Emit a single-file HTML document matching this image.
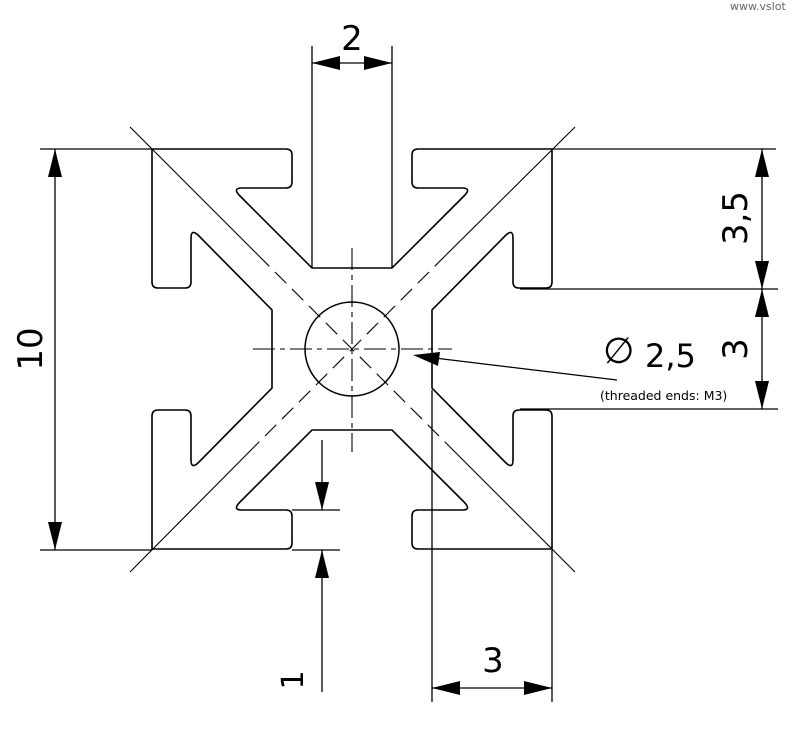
<!DOCTYPE html>
<html><head><meta charset="utf-8"><style>
html,body{margin:0;padding:0;background:#fff;}
svg{display:block;}
text{font-family:"DejaVu Sans","Liberation Sans",sans-serif;fill:#000;}
</style></head><body>
<svg width="800" height="732" viewBox="0 0 800 732" xmlns="http://www.w3.org/2000/svg">
<defs>
<g id="q">
<path d="M352,268 L312,268 L240,196 Q232,188 242,188 L286,188 Q292,188 292,182 L292,155 Q292,149 286,149 L152,149 L152,282 Q152,288 158,288 L185,288 Q191,288 191,282 L191,238 Q191,228 199,236 L272,310 L272,349" fill="none" stroke="#000" stroke-width="1.6"/>
</g>
</defs>
<use href="#q"/>
<use href="#q" transform="translate(704,0) scale(-1,1)"/>
<use href="#q" transform="translate(0,698) scale(1,-1)"/>
<use href="#q" transform="translate(704,698) scale(-1,-1)"/>
<g stroke="#000" stroke-width="1.3" fill="none">
<!-- slot walls / extensions -->
<line x1="312" y1="268" x2="312" y2="46"/>
<line x1="392" y1="268" x2="392" y2="46"/>
<line x1="432" y1="390" x2="432" y2="702"/>
<line x1="552" y1="550" x2="552" y2="702"/>
<!-- left extension -->
<line x1="40" y1="149" x2="152" y2="149"/>
<line x1="40" y1="550" x2="152" y2="550"/>
<line x1="55" y1="149" x2="55" y2="550"/>
<!-- right extensions -->
<line x1="552" y1="149" x2="776" y2="149"/>
<line x1="520" y1="289" x2="778" y2="289"/>
<line x1="520" y1="409" x2="778" y2="409"/>
<line x1="762" y1="149" x2="762" y2="409"/>
<!-- top dim -->
<line x1="312" y1="63" x2="392" y2="63"/>
<!-- bottom 1 -->
<line x1="292" y1="510" x2="340" y2="510"/>
<line x1="292" y1="550" x2="340" y2="550"/>
<line x1="322" y1="440" x2="322" y2="510"/>
<line x1="322" y1="550" x2="322" y2="692"/>
<!-- bottom 3 -->
<line x1="432" y1="688" x2="552" y2="688"/>
<!-- leader -->
<line x1="418" y1="356" x2="617" y2="380"/>
<!-- diagonals -->
<line x1="130" y1="127" x2="258" y2="255" stroke-width="1.1"/>
<line x1="446" y1="443" x2="575" y2="572" stroke-width="1.1"/>
<line x1="258" y1="255" x2="446" y2="443" stroke-width="1.1" stroke-dasharray="16,8"/>
<line x1="575" y1="127" x2="446" y2="255" stroke-width="1.1"/>
<line x1="258" y1="443" x2="130" y2="572" stroke-width="1.1"/>
<line x1="446" y1="255" x2="258" y2="443" stroke-width="1.1" stroke-dasharray="16,8"/>
<!-- centerlines -->
<line x1="253" y1="349" x2="452" y2="349" stroke-width="1.1" stroke-dasharray="22,5,5,5"/>
<line x1="352" y1="248" x2="352" y2="452" stroke-width="1.1" stroke-dasharray="22,5,5,5"/>
<circle cx="352" cy="349" r="47" stroke-width="1.5"/>
</g>
<g fill="#000">
<!-- top arrows -->
<polygon points="312,63 340,56 340,70"/>
<polygon points="392,63 364,56 364,70"/>
<!-- left arrows -->
<polygon points="55,149 48,177 62,177"/>
<polygon points="55,550 48,522 62,522"/>
<!-- right arrows -->
<polygon points="762,149 755,177 769,177"/>
<polygon points="762,289 755,261 769,261"/>
<polygon points="762,289 755,317 769,317"/>
<polygon points="762,409 755,381 769,381"/>
<!-- 1 arrows -->
<polygon points="322,510 315,482 329,482"/>
<polygon points="322,550 315,578 329,578"/>
<!-- 3 arrows -->
<polygon points="432,688 460,681 460,695"/>
<polygon points="552,688 524,681 524,695"/>
<!-- leader arrow -->
<polygon points="413,355 440,352 438,366"/>
</g>
<text x="352" y="50" font-size="34" text-anchor="middle">2</text>
<text transform="translate(42,349) rotate(-90)" font-size="34" text-anchor="middle">10</text>
<text transform="translate(747,218) rotate(-90)" font-size="34" text-anchor="middle">3,5</text>
<text transform="translate(747,349) rotate(-90)" font-size="34" text-anchor="middle">3</text>
<text transform="translate(303,680) rotate(-90)" font-size="30" text-anchor="middle">1</text>
<text x="493" y="672" font-size="34" text-anchor="middle">3</text>
<text x="603" y="363" font-size="36" font-family="Liberation Sans">∅</text>
<text x="645" y="367" font-size="32">2,5</text>
<text x="600" y="400" font-size="12.5">(threaded ends: M3)</text>
<text x="730" y="10" font-size="11" style="fill:#666">www.vslot</text>
</svg>
</body></html>
